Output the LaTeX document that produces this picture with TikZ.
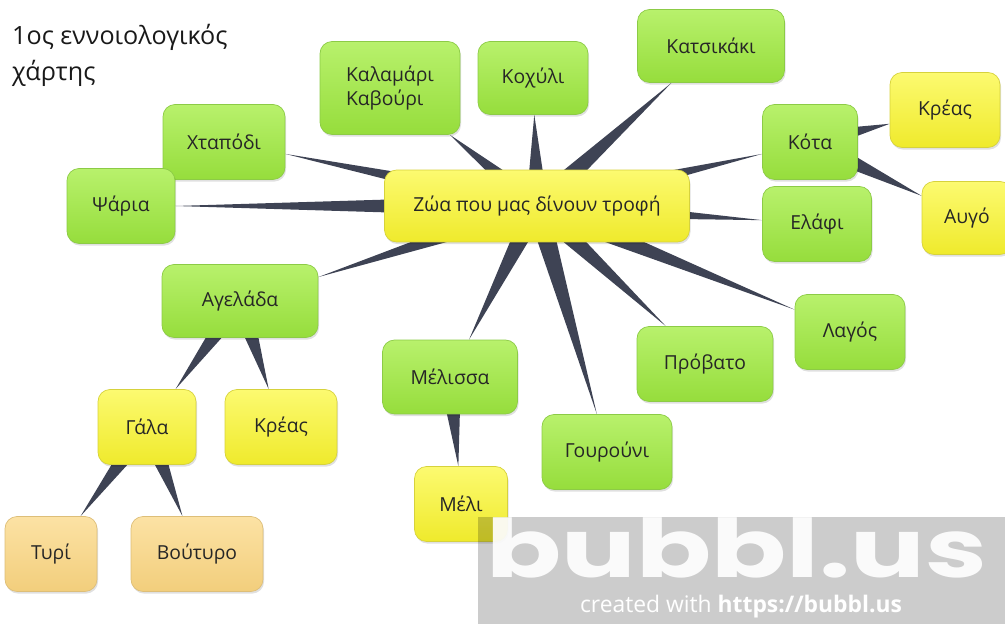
\documentclass[tikz,border=0pt]{standalone}
\usepackage{fontspec}
\setmainfont{Open Sans}
\newfontfamily\logofont{Poppins}
\usetikzlibrary{positioning,calc,backgrounds,shadows}

\definecolor{greentop}{HTML}{B8F16C}
\definecolor{greenbot}{HTML}{96DD3C}
\definecolor{greenedge}{HTML}{8CCB46}
\definecolor{yellowtop}{HTML}{FCFA70}
\definecolor{yellowbot}{HTML}{EFEA2C}
\definecolor{yellowedge}{HTML}{D6D23C}
\definecolor{tantop}{HTML}{FCE2A4}
\definecolor{tanbot}{HTML}{F2CE7C}
\definecolor{tanedge}{HTML}{DDBE78}
\definecolor{spokegray}{HTML}{3E4354}

\tikzset{MindMap/.style = {% styles of the concept map
     base/.style = {rectangle, rounded corners=0.24cm, align=left,
                    font=\fontsize{11}{14}\selectfont, text=black!85,
                    drop shadow={shadow xshift=0.6pt, shadow yshift=-1.2pt,
                                 fill=black, opacity=0.12}},
   animal/.style = {base, draw=greenedge, top color=greentop, bottom color=greenbot},
     food/.style = {base, draw=yellowedge, top color=yellowtop, bottom color=yellowbot},
    dairy/.style = {base, draw=tanedge, top color=tantop, bottom color=tanbot},
    spoke/.style = {fill=spokegray, draw=none}}
        }
% tapered connector: wide at the parent, pointed at the child's border
\newcommand{\spoke}[2]{%
  \fill[spoke] let \p1 = ($(#1)-(#2)$), \n1 = {atan2(\y1,\x1)} in
    ($(#1)!0.22cm!90:(#2)$) -- (#2.\n1) -- ($(#1)!0.22cm!-90:(#2)$) -- cycle;}

\begin{document}
\begin{tikzpicture}[MindMap, x=0.02cm, y=-0.02cm]
\useasboundingbox (0,0) rectangle (1005,624);

% title
\node (title) [anchor=north west, align=left, text=black!90,
               font=\fontsize{14.3}{20.5}\selectfont] at (6,18) {1ος εννοιολογικός\\χάρτης};

% nodes
\node (centre)    [food,   minimum width=6.1cm,  minimum height=1.44cm] at (537,206) {Ζώα που μας δίνουν τροφή};
\node (xtapodi)   [animal, minimum width=2.44cm, minimum height=1.5cm]  at (224,142) {Χταπόδι};
\node (psaria)    [animal, minimum width=2.16cm, minimum height=1.5cm]  at (121,206) {Ψάρια};
\node (kalamari)  [animal, minimum width=2.8cm,  minimum height=1.86cm] at (390,88)  {Καλαμάρι\\Καβούρι};
\node (koxyli)    [animal, minimum width=2.2cm,  minimum height=1.46cm] at (533,78)  {Κοχύλι};
\node (katsikaki) [animal, minimum width=2.94cm, minimum height=1.46cm] at (711,46)  {Κατσικάκι};
\node (kota)      [animal, minimum width=1.9cm,  minimum height=1.5cm]  at (810,142) {Κότα};
\node (kreasR)    [food,   minimum width=2.2cm,  minimum height=1.5cm]  at (945,110) {Κρέας};
\node (avgo)      [food,   minimum width=1.8cm,  minimum height=1.46cm] at (967,218) {Αυγό};
\node (elafi)     [animal, minimum width=2.18cm, minimum height=1.5cm]  at (817,224) {Ελάφι};
\node (lagos)     [animal, minimum width=2.2cm,  minimum height=1.5cm]  at (850,332) {Λαγός};
\node (provato)   [animal, minimum width=2.72cm, minimum height=1.5cm]  at (705,364) {Πρόβατο};
\node (gourouni)  [animal, minimum width=2.6cm,  minimum height=1.5cm]  at (607,452) {Γουρούνι};
\node (melissa)   [animal, minimum width=2.7cm,  minimum height=1.48cm] at (450,377) {Μέλισσα};
\node (meli)      [food,   minimum width=1.86cm, minimum height=1.5cm]  at (461,504) {Μέλι};
\node (ageladha)  [animal, minimum width=3.12cm, minimum height=1.46cm] at (240,301) {Αγελάδα};
\node (gala)      [food,   minimum width=1.96cm, minimum height=1.5cm]  at (147,427) {Γάλα};
\node (kreasL)    [food,   minimum width=2.24cm, minimum height=1.5cm]  at (281,427) {Κρέας};
\node (tyri)      [dairy,  minimum width=1.84cm, minimum height=1.5cm]  at (51,554)  {Τυρί};
\node (voutyro)   [dairy,  minimum width=2.64cm, minimum height=1.5cm]  at (197,554) {Βούτυρο};

% connectors
\begin{scope}[on background layer]
\foreach \child in {xtapodi, psaria, kalamari, koxyli, katsikaki, kota,
                    elafi, lagos, provato, gourouni, melissa, ageladha}
  {\spoke{centre}{\child}}
\spoke{kota}{kreasR}
\spoke{kota}{avgo}
\spoke{ageladha}{gala}
\spoke{ageladha}{kreasL}
\spoke{gala}{tyri}
\spoke{gala}{voutyro}
\spoke{melissa}{meli}
\end{scope}

% watermark
\fill[black, opacity=0.2] (478,517) rectangle (1010,630);
\node (logo) [font=\logofont\bfseries\fontsize{46}{46}\selectfont, text=white,
              opacity=0.92, xscale=1.37, inner sep=0pt] at (737,548) {bubbl.us};
\node (credit) [font=\fontsize{13}{15}\selectfont, text=white, inner sep=0pt]
      at (741,607) {created with \textbf{https://bubbl.us}};
\end{tikzpicture}
\end{document}
